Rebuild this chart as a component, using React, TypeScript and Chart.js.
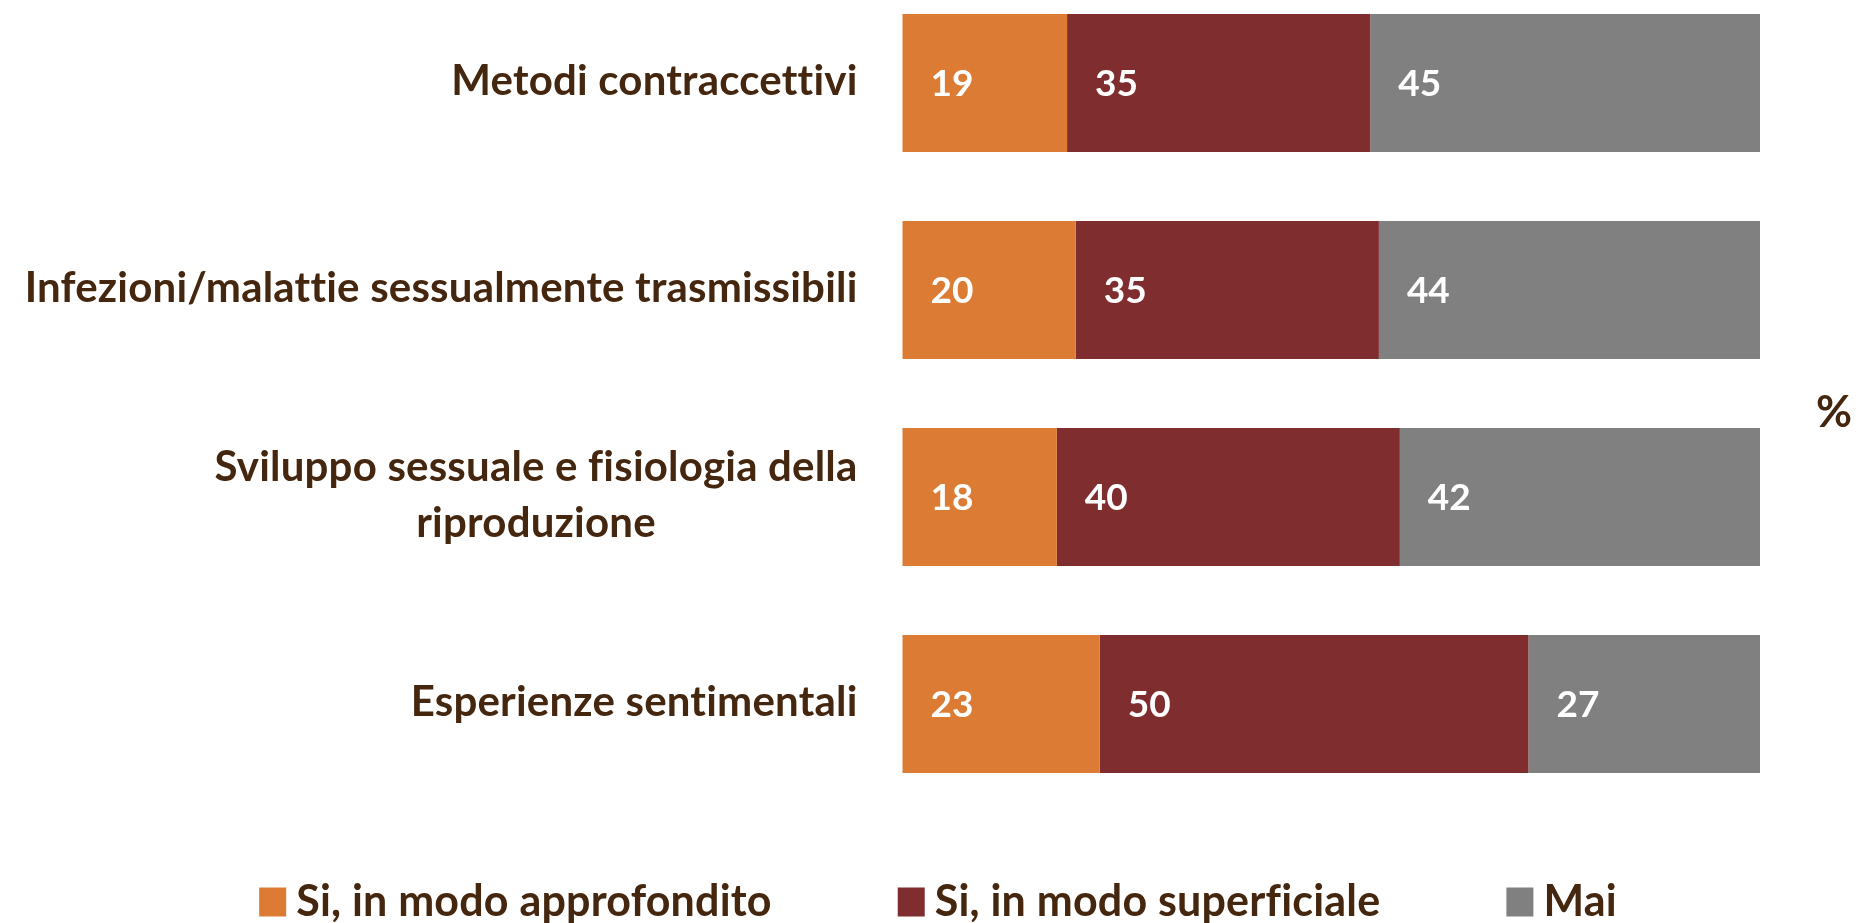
import React, { useEffect, useRef } from "react";
import { Chart, registerables } from "chart.js";

Chart.register(...registerables);

// ---- data ----
const categories: (string | string[])[] = [
  "Metodi contraccettivi",
  "Infezioni/malattie sessualmente trasmissibili",
  ["Sviluppo sessuale e fisiologia della", "riproduzione"],
  "Esperienze sentimentali",
];
const seriesNames = ["Si, in modo approfondito", "Si, in modo superficiale", "Mai"];
const approfondito = [19, 20, 18, 23];
const superficiale = [35, 35, 40, 50];
const mai = [45, 44, 42, 27];
const unitLabel = "%";

const seriesValues = [approfondito, superficiale, mai];
const colors = ["#DB7B34", "#7F2D2F", "#808080"];

const FONT = "Lato, 'Open Sans', sans-serif";
const TEXT_COLOR = "#45270f";
const CAT_SIZE = 42;
const VAL_SIZE = 37;
const LEG_SIZE = 43;

const totals = categories.map((_, i) =>
  seriesValues.reduce((s, arr) => s + arr[i], 0)
);

function noLig(ctx: any) {
  try {
    ctx.letterSpacing = "0.2px";
  } catch (e) {}
}

const valueLabels = {
  id: "valueLabels",
  afterDatasetsDraw(chart: any) {
    const ctx = chart.ctx;
    ctx.save();
    ctx.font = `bold ${VAL_SIZE}px ${FONT}`;
    ctx.fillStyle = "#ffffff";
    ctx.textAlign = "left";
    ctx.textBaseline = "middle";
    chart.data.datasets.forEach((_: any, di: number) => {
      const meta = chart.getDatasetMeta(di);
      meta.data.forEach((el: any, i: number) => {
        const p = el.getProps(["x", "y", "base"], true);
        ctx.fillText(String(seriesValues[di][i]), Math.min(p.x, p.base) + 28, p.y + 1);
      });
    });
    ctx.restore();
  },
};

const categoryLabels = {
  id: "categoryLabels",
  afterDraw(chart: any) {
    const ctx = chart.ctx;
    const yScale = chart.scales.y;
    const right = chart.chartArea.left - 45;
    const lineH = 56;
    ctx.save();
    ctx.font = `bold ${CAT_SIZE}px ${FONT}`;
    noLig(ctx);
    ctx.fillStyle = TEXT_COLOR;
    ctx.textAlign = "center";
    ctx.textBaseline = "middle";
    categories.forEach((c, i) => {
      const lines = Array.isArray(c) ? c : [c];
      const w = Math.max(...lines.map((l) => ctx.measureText(l).width));
      const cx = right - w / 2;
      const yc = yScale.getPixelForValue(i) - 2;
      lines.forEach((l, li) => {
        const y = yc + (li - (lines.length - 1) / 2) * lineH;
        ctx.fillText(l, cx, y);
      });
    });
    // unit label
    ctx.textAlign = "left";
    ctx.font = `bold 44px ${FONT}`;
    const mid = (chart.chartArea.top + chart.chartArea.bottom) / 2;
    ctx.fillText(unitLabel, chart.chartArea.right + 56, mid + 19);
    ctx.restore();
  },
};

const bottomLegend = {
  id: "bottomLegend",
  afterDraw(chart: any) {
    const ctx = chart.ctx;
    const boxW = 27;
    const boxH = 29;
    const gap = 10;
    const spacing = 126;
    ctx.save();
    ctx.font = `bold ${LEG_SIZE}px ${FONT}`;
    noLig(ctx);
    ctx.textBaseline = "middle";
    ctx.textAlign = "left";
    const items = chart.data.datasets.map((d: any) => ({
      text: d.label as string,
      color: d.backgroundColor as string,
      w: boxW + gap + ctx.measureText(d.label).width,
    }));
    const total =
      items.reduce((s: number, it: any) => s + it.w, 0) + spacing * (items.length - 1);
    let x = 938 - total / 2;
    const yc = chart.chartArea.bottom + 198;
    items.forEach((it: any) => {
      ctx.fillStyle = it.color;
      ctx.fillRect(x, yc - boxH / 2, boxW, boxH);
      ctx.fillStyle = TEXT_COLOR;
      ctx.fillText(it.text, x + boxW + gap, yc);
      x += it.w + spacing;
    });
    ctx.restore();
  },
};

export default function App() {
  const ref = useRef<HTMLCanvasElement | null>(null);

  useEffect(() => {
    if (!ref.current) return;
    const chart = new Chart(ref.current, {
      type: "bar",
      data: {
        labels: categories.map((c) => (Array.isArray(c) ? c.join(" ") : c)),
        datasets: seriesValues.map((vals, di) => ({
          label: seriesNames[di],
          data: vals.map((v, i) => (v / totals[i]) * 100),
          backgroundColor: colors[di],
          borderWidth: 0,
          barPercentage: 0.667,
          categoryPercentage: 1,
          clip: false as any,
        })),
      },
      options: {
        indexAxis: "y",
        responsive: false,
        animation: false,
        layout: { padding: { left: 902.5, right: 102, top: 83, bottom: 219 } },
        plugins: {
          legend: { display: false },
          tooltip: { enabled: false },
          title: { display: false },
        },
        scales: {
          x: { stacked: true, min: 0, max: 100, display: false },
          y: { stacked: true, display: false, offset: false },
        },
      },
      plugins: [valueLabels, categoryLabels, bottomLegend],
    });
    return () => chart.destroy();
  }, []);

  return (
    <div style={{ position: "absolute", left: 0, top: 0, width: 1862, height: 923, background: "#fff" }}>
      <canvas ref={ref} width={1862} height={923} style={{ display: "block" }} />
    </div>
  );
}
